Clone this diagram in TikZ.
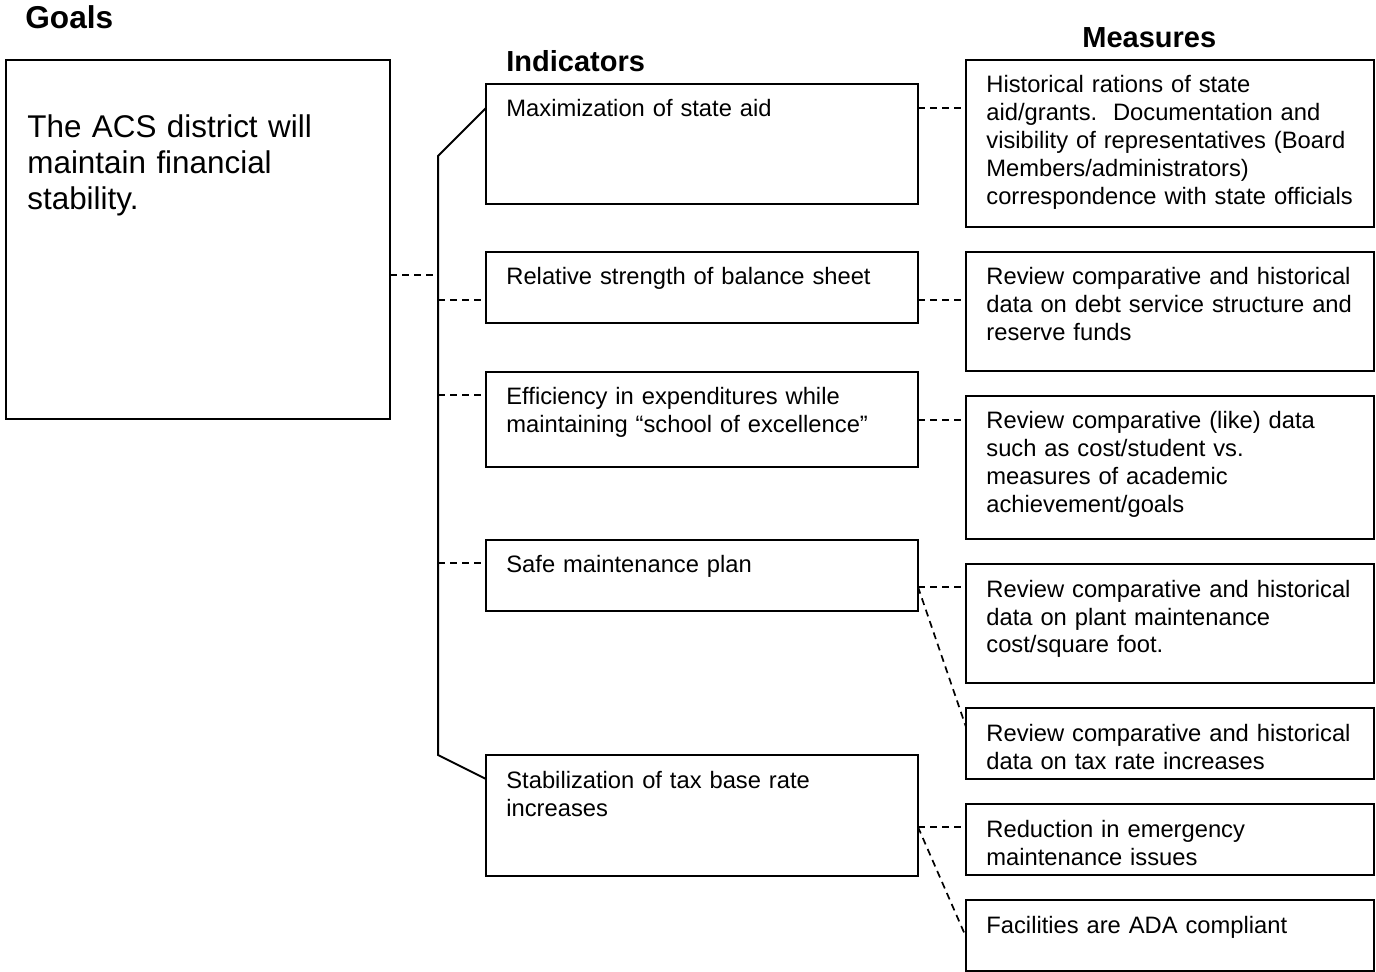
\documentclass[tikz,border=0pt]{standalone}
\usepackage{fontspec}
\setmainfont{Liberation Sans}
\usetikzlibrary{calc}
\begin{document}
\begin{tikzpicture}[x=0.5pt,y=-0.5pt,
  box/.style={draw,line width=1pt,rectangle,anchor=north west,inner sep=0pt,outer sep=0pt},
  ibox/.style={box,minimum width=216pt},
  mbox/.style={box,minimum width=204pt},
  txt/.style={anchor=north west,inner sep=0pt,align=left,text width=200pt,font=\fontsize{11.87pt}{14pt}\selectfont},
  gtxt/.style={anchor=north west,inner sep=0pt,align=left,text width=185pt,font=\fontsize{15.7pt}{18pt}\selectfont},
  ttl/.style={anchor=base west,inner sep=0pt,font=\fontsize{14.5pt}{17pt}\selectfont\bfseries},
  dsh/.style={line width=0.85pt,dash pattern=on 3.5pt off 2.5pt},
  brk/.style={line width=1pt}]
\useasboundingbox (0,0) rectangle (1376,972);
% titles
\node[ttl,font=\fontsize{15.8pt}{18pt}\selectfont\bfseries] (tg) at (25,29) {Goals};
\node[ttl] (ti) at (506,72) {Indicators};
\node[ttl] (tm) at (1082,48) {Measures};
% goal
\node[box,minimum width=192pt,minimum height=179.5pt] (g) at (6,60) {};
\node[gtxt] (gt) at (27,112) {\strut The ACS district will\\maintain financial\\stability.};
% indicators
\node[ibox,minimum height=60pt] (i1) at (486,84) {};
\node[ibox,minimum height=35.5pt] (i2) at (486,252) {};
\node[ibox,minimum height=47.5pt] (i3) at (486,372) {};
\node[ibox,minimum height=35.5pt] (i4) at (486,540) {};
\node[ibox,minimum height=60.5pt] (i5) at (486,755) {};
\node[txt] (i1t) at (506,97) {\strut Maximization of state aid};
\node[txt] (i2t) at (506,265) {\strut Relative strength of balance sheet};
\node[txt] (i3t) at (506,385) {\strut Efficiency in expenditures while\\maintaining “school of excellence”};
\node[txt] (i4t) at (506,553) {\strut Safe maintenance plan};
\node[txt] (i5t) at (506,768) {\strut Stabilization of tax base rate\\increases};
% measures
\node[mbox,minimum height=83.5pt] (m1) at (966,60) {};
\node[mbox,minimum height=59.5pt] (m2) at (966,252) {};
\node[mbox,minimum height=71.5pt] (m3) at (966,396) {};
\node[mbox,minimum height=59.5pt] (m4) at (966,564) {};
\node[mbox,minimum height=35.5pt] (m5) at (966,708) {};
\node[mbox,minimum height=35.5pt] (m6) at (966,804) {};
\node[mbox,minimum height=35.5pt] (m7) at (966,900) {};
\node[txt] (m1t) at (986,73) {\strut Historical rations of state\\aid/grants.\ \ Documentation and\\visibility of representatives (Board\\Members/administrators)\\correspondence with state officials};
\node[txt] (m2t) at (986,265) {\strut Review comparative and historical\\data on debt service structure and\\reserve funds};
\node[txt] (m3t) at (986,409) {\strut Review comparative (like) data\\such as cost/student vs.\\measures of academic\\achievement/goals};
\node[txt] (m4t) at (986,577) {\strut Review comparative and historical\\data on plant maintenance\\cost/square foot.};
\node[txt] (m5t) at (986,721) {\strut Review comparative and historical\\data on tax rate increases};
\node[txt] (m6t) at (986,817) {\strut Reduction in emergency\\maintenance issues};
\node[txt] (m7t) at (986,913) {\strut Facilities are ADA compliant};
% bracket
\coordinate (bt) at (438,156);
\coordinate (bb) at (438,755);
\coordinate (gj) at (438,275);
\coordinate (b2) at (438,300);
\coordinate (b3) at (438,395);
\coordinate (b4) at (438,563);
\draw[brk] ($(i1.north west)+(0,24)$) -- (bt) -- (bb) -- ($(i5.north west)+(0,24)$);
\draw[dsh] (g.east |- gj) -- (gj);
\draw[dsh] (b2) -- (b2 -| i2.west);
\draw[dsh] (b3) -- (b3 -| i3.west);
\draw[dsh] (b4) -- (b4 -| i4.west);
% indicator to measure
\coordinate (e1) at ($(i1.north east)+(0,24)$);
\coordinate (e2) at ($(i2.north east)+(0,48)$);
\coordinate (e3) at ($(i3.north east)+(0,48)$);
\coordinate (e4) at ($(i4.north east)+(0,47)$);
\coordinate (e5) at ($(i5.north east)+(0,72)$);
\draw[dsh] (e1) -- (e1 -| m1.west);
\draw[dsh] (e2) -- (e2 -| m2.west);
\draw[dsh] (e3) -- (e3 -| m3.west);
\draw[dsh] (e4) -- (e4 -| m4.west);
\draw[dsh] (e4) -- ($(m5.north west)+(0,19)$);
\draw[dsh] (e5) -- (e5 -| m6.west);
\draw[dsh] (e5) -- ($(m7.north west)+(0,37)$);
\end{tikzpicture}
\end{document}
